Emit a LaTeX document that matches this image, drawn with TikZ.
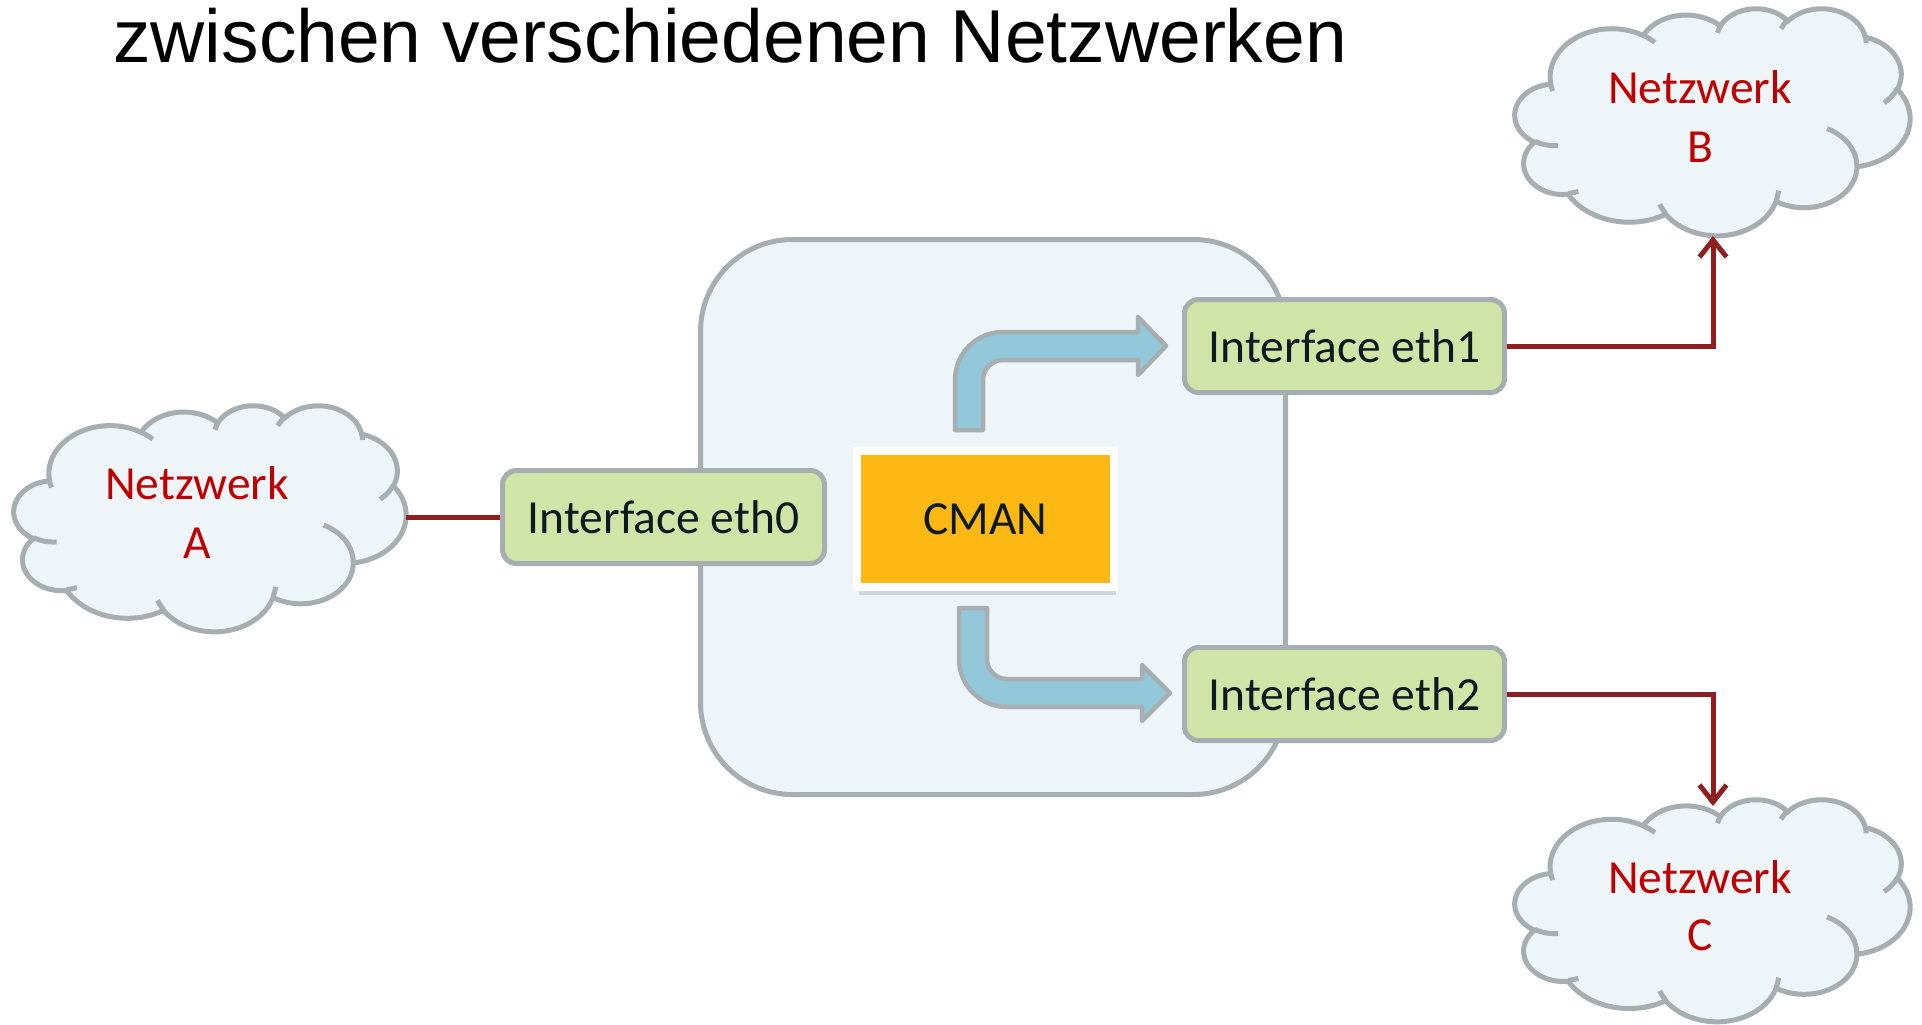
\documentclass[tikz,border=0pt]{standalone}
\usepackage{fontspec}
\setmainfont{Carlito}
\newfontfamily\titlefont{Liberation Sans}
\usetikzlibrary{arrows.meta,shadows}
\definecolor{strokegray}{RGB}{166,174,177}
\definecolor{paleblue}{RGB}{237,245,248}
\definecolor{ifgreen}{RGB}{208,228,167}
\definecolor{cmanorange}{RGB}{253,184,19}
\definecolor{arrowblue}{RGB}{146,199,218}
\definecolor{linered}{RGB}{143,30,30}
\definecolor{cloudred}{RGB}{192,0,0}
\definecolor{textdark}{RGB}{12,26,32}
% convert OOXML visual angles to parametric angles
\newcommand\cloudang[4]{%
  \pgfmathparse{atan2((#1)*sin(#3),(#2)*cos(#3))}\xdef\cSa{\pgfmathresult}%
  \pgfmathparse{atan2((#1)*sin(#3+#4),(#2)*cos(#3+#4))}\xdef\cSb{\pgfmathresult}%
  \pgfmathparse{(\cSa)+mod((\cSb)-(\cSa)+720,360)}\xdef\cSb{\pgfmathresult}%
}
\newcommand\carc[4]{\pgfextra{\cloudang{#1}{#2}{#3}{#4}} arc[x radius=#1, y radius=#2, start angle=\cSa, end angle=\cSb]}
\newcommand\cloudpath{(39.00,143.70)
 \carc{67.53}{91.90}{-190.4875}{123.7805}
 \carc{53.33}{72.67}{-144.1024}{89.9452}
 \carc{43.65}{59.45}{-145.8079}{99.7230}
 \carc{48.57}{65.95}{-130.9861}{117.2417}
 \carc{53.33}{72.73}{-78.7089}{109.0269}
 \carc{67.75}{92.20}{-46.2673}{130.2690}
 \carc{57.85}{78.67}{0.6250}{114.0333}
 \carc{67.52}{92.15}{22.4516}{115.1726}
 \carc{77.20}{105.43}{66.2426}{75.7110}
 \carc{43.60}{59.18}{-274.9421}{146.7356}
 \carc{43.45}{59.45}{-246.8285}{152.5189}
 -- cycle}
\newcommand\cdet[6]{\draw[cloudline] (#1,#2) \carc{#3}{#4}{#5}{#6};}
\newcommand\netcloud[4]{%
 \begin{scope}[shift={(#1,#2)}, xscale=#3/432, yscale=#4/432]
  \filldraw[cloudshape] \cloudpath;
  \cdet{46.93}{261.77}{43.45}{59.45}{86.7420}{26.4295}
  \cdet{69.28}{348.99}{43.60}{59.18}{73.6105}{11.4475}
  \cdet{164.78}{390.90}{67.52}{92.15}{137.6242}{14.0811}
  \cdet{288.27}{347.51}{67.52}{92.15}{6.4533}{15.9984}
  \cdet{341.29}{229.54}{57.85}{78.67}{-70.2924}{70.9174}
  \cdet{417.98}{153.54}{53.33}{72.73}{30.3180}{27.7515}
  \cdet{383.24}{54.26}{48.57}{65.95}{-13.7443}{14.8522}
  \cdet{290.78}{39.52}{48.57}{65.95}{-149.1815}{18.1954}
  \cdet{221.41}{47.20}{43.65}{59.45}{-163.4943}{17.6864}
  \cdet{140.00}{51.92}{67.53}{91.90}{-66.7070}{12.3194}
  \cdet{41.27}{157.89}{67.53}{91.90}{157.6544}{11.8582}
 \end{scope}}
\begin{document}
\begin{tikzpicture}[x=1pt,y=-1pt,
  cloudshape/.style={draw=strokegray, fill=paleblue, line width=5pt},
  cloudline/.style={draw=strokegray, line width=5pt},
  container/.style={draw=strokegray, line width=5pt, fill=paleblue, rounded corners=92pt,
    minimum width=585pt, minimum height=555pt, inner sep=0pt},
  ifbox/.style={draw=strokegray, line width=5pt, fill=ifgreen, rounded corners=14pt,
    minimum height=93pt, inner sep=0pt, text=textdark, font=\fontsize{47.5}{57}\selectfont},
  cmanbox/.style={draw=white, line width=8pt, fill=cmanorange, minimum width=257pt,
    minimum height=136pt, inner sep=0pt, text=textdark, font=\fontsize{47.5}{57}\selectfont,
    drop shadow={opacity=0.25, shadow xshift=2pt, shadow yshift=-8pt}},
  cloudtxt/.style={anchor=base, inner sep=0pt, text=cloudred, font=\fontsize{47.5}{57}\selectfont},
  bluearrow/.style={draw=strokegray, fill=arrowblue, line width=4.5pt, line join=round},
  redline/.style={draw=linered, line width=5pt},
  redarrow/.style={redline, -{Straight Barb[length=17pt,width=27pt]}}
]
\useasboundingbox (0,0) rectangle (1922,1025);
\fill[white] (0,0) rectangle (1922,1025);
% title
\node[anchor=base west, inner sep=0pt, font=\titlefont\fontsize{75}{90}\selectfont] (title) at (113,63) {zwischen verschiedenen Netzwerken};
% container
\node[container] (host) at (993,517) {};
% blue arrows
\filldraw[bluearrow] (955,430) -- (955,380) arc[start angle=180, end angle=270, radius=48]
  -- (1138,332) -- (1138,317) -- (1166,346) -- (1138,375) -- (1138,360) -- (1003,360)
  arc[start angle=270, end angle=180, radius=20] -- (983,430) -- cycle;
\filldraw[bluearrow] (959,608) -- (959,659) arc[start angle=180, end angle=90, radius=48]
  -- (1142,707) -- (1142,721) -- (1170,693) -- (1142,665) -- (1142,679) -- (1007,679)
  arc[start angle=90, end angle=180, radius=20] -- (987,608) -- cycle;
% clouds
\netcloud{14}{405}{392}{226}
\netcloud{1515}{8}{395}{227}
\netcloud{1515}{799}{395}{222}
\node[cloudtxt] (netA1) at (197,499) {Netzwerk};
\node[cloudtxt] (netA2) at (197,558) {A};
\node[cloudtxt] (netB1) at (1700,103) {Netzwerk};
\node[cloudtxt] (netB2) at (1700,162) {B};
\node[cloudtxt] (netC1) at (1700,893) {Netzwerk};
\node[cloudtxt] (netC2) at (1700,950) {C};
\coordinate (Aright) at (406,517);
\coordinate (Bbottom) at (1713,236);
\coordinate (Ctop) at (1713,806);
% interfaces
\node[ifbox, minimum width=322pt] (eth0) at (663.5,517) {Interface eth0};
\node[ifbox, minimum width=320pt] (eth1) at (1344.5,346) {Interface eth1};
\node[ifbox, minimum width=320pt] (eth2) at (1344.5,694) {Interface eth2};
\node[cmanbox] (cman) at (985.5,519) {CMAN};
% red connectors
\draw[redline] (Aright) -- (eth0.west);
\draw[redarrow] (eth1.east) -| (Bbottom);
\draw[redarrow] (eth2.east) -| (Ctop);
\end{tikzpicture}
\end{document}
